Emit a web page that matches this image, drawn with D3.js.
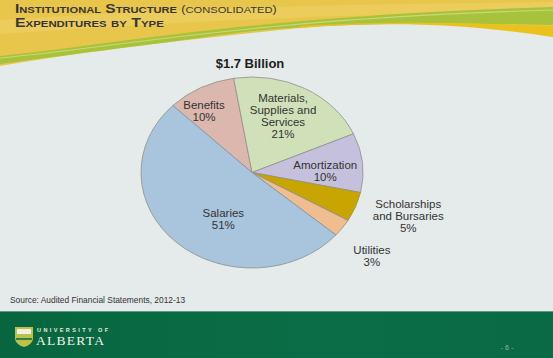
<!DOCTYPE html>
<html><head><meta charset="utf-8">
<script src="https://cdn.jsdelivr.net/npm/d3@7"></script>
<style>html,body{margin:0;padding:0;background:#e5eaeb;}svg{display:block;}</style>
</head><body>
<script>
const categories = ["Benefits", "Materials, Supplies and Services", "Amortization", "Scholarships and Bursaries", "Utilities", "Salaries"];
const labelLines = [["Benefits","10%"],["Materials,","Supplies and","Services","21%"],["Amortization","10%"],["Scholarships","and Bursaries","5%"],["Utilities","3%"],["Salaries","51%"]];
const values = [10, 21, 10, 5, 3, 51];
const colors = ["#dcb7ae", "#d0e1b9", "#c5c1dc", "#c9a500", "#efbd8f", "#a9c4dd"];
const chartTitle = "$1.7 Billion";
const sourceText = "Source: Audited Financial Statements, 2012-13";

const W = 553, H = 358;
const svg = d3.select("body").append("svg").attr("width", W).attr("height", H);

// background
svg.append("rect").attr("width", W).attr("height", H).attr("fill", "#e5eaeb");
// header
svg.append("path").attr("d", "M0,0 H553 V37 C480,24 400,18 300,28 C200,38 80,52 0,66 Z").attr("fill", "#e8c64c");
svg.append("path").attr("d", "M0,20 C150,10 300,4 553,2 V12 C300,14 150,24 0,34 Z").attr("fill", "#efd36a").attr("opacity", 0.5);
svg.append("path").attr("d", "M0,56 C120,44 250,16 553,7 V25 C420,22 300,22 200,38 C120,48 60,56 0,64 Z").attr("fill", "#a9c23c");
svg.append("path").attr("d", "M0,58 C120,47 250,19 553,10").attr("fill", "none").attr("stroke", "#c8d97a").attr("stroke-width", 1.2);
svg.append("path").attr("d", "M300,26 C400,20 480,24 553,26 V37 C480,26 400,20 300,28 Z").attr("fill", "#e9c31c");

// title with small caps made of real text
function smallCaps(sel, str, big, small, bold) {
  const parts = str.match(/([A-Z(),0-9 ]+|[a-z]+)/g);
  parts.forEach(p => {
    const isLower = /[a-z]/.test(p);
    sel.append("tspan").attr("font-size", isLower ? small : big)
      .attr("font-weight", bold ? "bold" : "normal").text(p.toUpperCase());
  });
}
function fitWidth(sel, x, y, target) {
  const w = sel.node().getComputedTextLength();
  sel.attr("x", 0).attr("y", 0).attr("transform", `translate(${x},${y}) scale(${target / w},1)`);
}
const ff = "Liberation Sans, Arial, sans-serif";
const t1 = svg.append("text").attr("fill", "#363636").attr("font-family", ff);
smallCaps(t1, "Institutional Structure ", 12.5, 9, true);
smallCaps(t1, "(consolidated)", 10, 9, false);
fitWidth(t1, 15, 12.5, 262);
const t2 = svg.append("text").attr("fill", "#363636").attr("font-family", ff);
smallCaps(t2, "Expenditures by Type", 12.5, 9, true);
fitWidth(t2, 15, 27, 149);

// pie
const cx = 252, cy = 172.5, rx = 111, ry = 95.5;
const pie = d3.pie().sort(null).value(d => d)
  .startAngle(-45.5 * Math.PI / 180).endAngle(314.5 * Math.PI / 180);
const arcs = pie(values);
const arc = d3.arc().innerRadius(0).outerRadius(rx);
const g = svg.append("g").attr("transform", `translate(${cx},${cy}) scale(1,${ry / rx})`);
g.selectAll("path").data(arcs).join("path")
  .attr("d", arc).attr("fill", (d, i) => colors[i])
  .attr("stroke", "#8e8f8c").attr("stroke-width", 0.8).attr("vector-effect", "non-scaling-stroke");

svg.append("text").attr("x", 250).attr("y", 68).attr("text-anchor", "middle")
  .attr("font-family", ff).attr("font-weight", "bold")
  .attr("font-size", 13).attr("fill", "#1e1e1e").text(chartTitle);

// label anchors in polar form (radius as fraction of pie radius, angle in degrees clockwise from top)
const labelRadius = [0.775, 0.65, 0.66, 1.48, 1.39, 0.55];
const labelAngle = [-33.9, 25.5, 89, 108, 129, 208];
const lineH = 12;
arcs.forEach((d, i) => {
  const a = labelAngle[i] * Math.PI / 180;
  const r = rx * labelRadius[i];
  const x = cx + Math.sin(a) * r;
  const y = cy - Math.cos(a) * r * ry / rx;
  const lines = labelLines[i];
  const tx = svg.append("text").attr("text-anchor", "middle")
    .attr("font-family", ff).attr("font-size", 11.5).attr("fill", "#333");
  lines.forEach((l, k) => {
    tx.append("tspan").attr("x", x).attr("y", y + 4 + (k - (lines.length - 1) / 2) * lineH).text(l);
  });
});

// source
svg.append("text").attr("x", 10).attr("y", 303).attr("font-family", ff)
  .attr("font-size", 8.4).attr("fill", "#333").text(sourceText);

// footer
const grad = svg.append("defs").append("linearGradient").attr("id", "fg").attr("x1", 0).attr("x2", 1);
grad.append("stop").attr("offset", 0).attr("stop-color", "#07663f");
grad.append("stop").attr("offset", 0.6).attr("stop-color", "#0b6d47");
grad.append("stop").attr("offset", 1).attr("stop-color", "#096a45");
svg.append("rect").attr("x", 0).attr("y", 311).attr("width", W).attr("height", H - 311).attr("fill", "url(#fg)");
svg.append("line").attr("x1", 0).attr("x2", W).attr("y1", 311.5).attr("y2", 311.5).attr("stroke", "#5d9b7c").attr("stroke-width", 1);

// logo
const lg = svg.append("g");
lg.append("path").attr("d", "M15,327 H33 V338 C33,343 28,346 24,347 C20,346 15,343 15,338 Z").attr("fill", "#b9c24a");
lg.append("rect").attr("x", 17).attr("y", 329).attr("width", 14).attr("height", 5).attr("fill", "#f2f0e0");
lg.append("path").attr("d", "M16,338 H32 V340 H16 Z").attr("fill", "#3f7a3a");
lg.append("text").attr("x", 37).attr("y", 331.5).attr("font-family", ff)
  .attr("font-weight", "bold").attr("font-size", 5.5).attr("fill", "#e8eedc").attr("textLength", 71).text("UNIVERSITY OF");
lg.append("text").attr("x", 36).attr("y", 345).attr("font-family", "Liberation Serif, Times New Roman, serif")
  .attr("font-size", 13.5).attr("fill", "#f2f4ea").attr("textLength", 68).text("ALBERTA");

svg.append("text").attr("x", 507).attr("y", 350).attr("text-anchor", "middle").attr("font-family", ff)
  .attr("font-size", 7).attr("fill", "#8cbfa0").text("- 6 -");
</script>
</body></html>
